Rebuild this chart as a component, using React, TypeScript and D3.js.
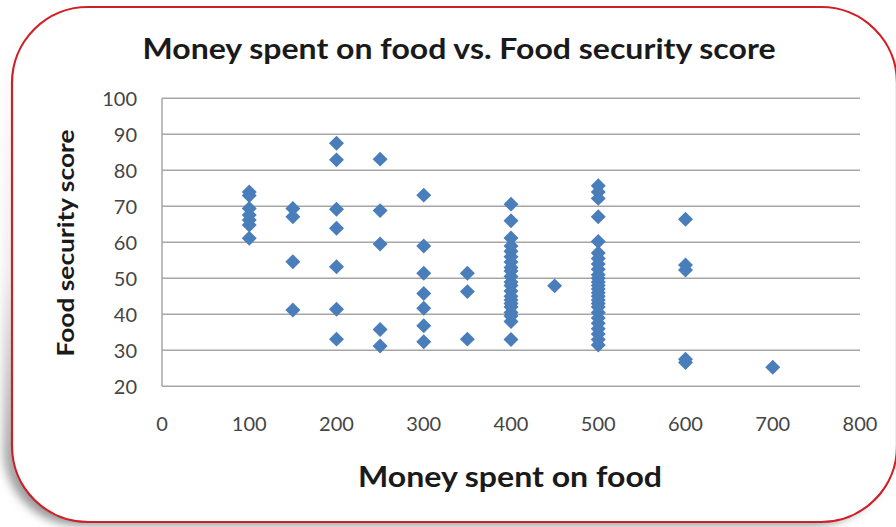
import React from "react";
import * as d3 from "d3";

// Money spent on food (x) and food security score (y) per respondent
const spend: number[] = [
  100, 100, 100, 100, 100, 100, 100,
  150, 150, 150, 150,
  200, 200, 200, 200, 200, 200, 200,
  250, 250, 250, 250, 250,
  300, 300, 300, 300, 300, 300, 300,
  350, 350, 350,
  400, 400, 400, 400, 400, 400, 400, 400, 400, 400, 400, 400, 400, 400, 400, 400, 400, 400, 400, 400, 400,
  450,
  500, 500, 500, 500, 500, 500, 500, 500, 500, 500, 500, 500, 500, 500, 500, 500, 500, 500, 500, 500, 500, 500, 500, 500, 500, 500,
  600, 600, 600, 600, 600,
  700,
];
const score: number[] = [
  74, 73, 69.4, 67.6, 66.2, 64.8, 61.1,
  69.4, 67.1, 54.6, 41.2,
  87.5, 82.9, 69.2, 63.9, 53.2, 41.4, 33.1,
  83.1, 68.8, 59.5, 35.8, 31.2,
  73.1, 59, 51.4, 45.8, 41.7, 36.8, 32.4,
  51.4, 46.3, 33.1,
  70.6, 66, 61.2, 59, 57.5, 56, 54.5, 53, 52, 50.5, 49, 48, 46.5, 45, 44, 43, 42, 40.5, 39.5, 38, 33,
  47.9,
  75.7, 74, 72.2, 67.1, 60.2, 57, 55.5, 54, 52.5, 51, 50, 49, 48, 47, 46, 45, 44, 43, 42, 40.5, 39, 37.5, 36, 34.5, 33, 31.5,
  66.4, 53.7, 52.3, 27.5, 26.6,
  25.3,
];

const xTicks: number[] = [0, 100, 200, 300, 400, 500, 600, 700, 800];
const yTicks: number[] = [20, 30, 40, 50, 60, 70, 80, 90, 100];

const W = 896;
const H = 527;
const plot = { left: 162, right: 860, top: 98.3, bottom: 386.3 };
const FONT = "Lato, 'Open Sans', sans-serif";

export default function App() {
  const x = d3.scaleLinear().domain([0, 800]).range([plot.left, plot.right]);
  const y = d3.scaleLinear().domain([20, 100]).range([plot.bottom, plot.top]);
  const diamond = d3.symbol().type(d3.symbolSquare).size(112)() as string;

  return (
    <svg
      width={W}
      height={H}
      viewBox={`0 0 ${W} ${H}`}
      style={{ position: "absolute", left: 0, top: 0, background: "#fff" }}
    >
      <defs>
        <filter id="frameShadow" x="-10%" y="-10%" width="120%" height="120%">
          <feGaussianBlur stdDeviation="5" />
        </filter>
        <linearGradient id="shadowFade" x1="0" y1="0" x2="0" y2="1">
          <stop offset="0" stopColor="#8a8a8a" stopOpacity={0} />
          <stop offset="0.5" stopColor="#8a8a8a" stopOpacity={0.15} />
          <stop offset="1" stopColor="#7a7a7a" stopOpacity={0.85} />
        </linearGradient>
      </defs>

      {/* frame shadow and rounded red border */}
      <rect
        x={3}
        y={12}
        width={886}
        height={513}
        rx={76}
        ry={76}
        fill="url(#shadowFade)"
        filter="url(#frameShadow)"
      />
      <rect
        x={12}
        y={7}
        width={885}
        height={515}
        rx={76}
        ry={76}
        fill="#ffffff"
        stroke="#cf2027"
        strokeWidth={2.2}
      />

      {/* title */}
      <text
        x={459}
        y={59}
        textAnchor="middle"
        fontFamily={FONT}
        fontWeight={700}
        fontSize={28}
        fill="#1a1a1a"
        textLength={633}
        lengthAdjust="spacingAndGlyphs"
      >
        Money spent on food vs. Food security score
      </text>

      {/* horizontal gridlines */}
      {yTicks.map((t) => (
        <line
          key={`g${t}`}
          x1={plot.left}
          x2={plot.right}
          y1={y(t)}
          y2={y(t)}
          stroke="#a6a6a6"
          strokeWidth={1.5}
        />
      ))}
      {/* vertical axis line */}
      <line
        x1={plot.left}
        x2={plot.left}
        y1={plot.top}
        y2={plot.bottom}
        stroke="#a6a6a6"
        strokeWidth={1.5}
      />

      {/* y tick labels */}
      {yTicks.map((t) => (
        <text
          key={`yl${t}`}
          x={137}
          y={y(t)}
          dy="0.36em"
          textAnchor="end"
          fontFamily={FONT}
          fontSize={20}
          fill="#454545"
        >
          {t}
        </text>
      ))}

      {/* x tick labels */}
      {xTicks.map((t) => (
        <text
          key={`xl${t}`}
          x={x(t)}
          y={431}
          textAnchor="middle"
          fontFamily={FONT}
          fontSize={20}
          fill="#454545"
        >
          {t}
        </text>
      ))}

      {/* axis titles */}
      <text
        x={510}
        y={487}
        textAnchor="middle"
        fontFamily={FONT}
        fontWeight={700}
        fontSize={28}
        fill="#1a1a1a"
        textLength={304}
        lengthAdjust="spacingAndGlyphs"
      >
        Money spent on food
      </text>
      <text
        transform={`translate(74,243) rotate(-90)`}
        textAnchor="middle"
        fontFamily={FONT}
        fontWeight={700}
        fontSize={22}
        fill="#1a1a1a"
        textLength={227}
        lengthAdjust="spacingAndGlyphs"
      >
        Food security score
      </text>

      {/* data points */}
      {spend.map((s, i) => (
        <path
          key={`p${i}`}
          d={diamond}
          transform={`translate(${x(s)},${y(score[i])}) rotate(45)`}
          fill="#4a7ebb"
        />
      ))}
    </svg>
  );
}
